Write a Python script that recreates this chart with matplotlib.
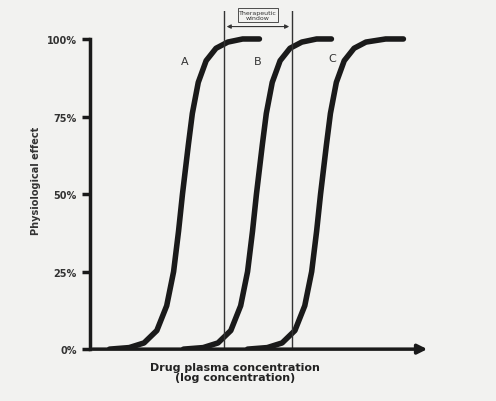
import matplotlib
matplotlib.use("Agg")
import matplotlib.pyplot as plt
import numpy as np

# x in axis units (0..345), y in percent
xa = [20, 40, 55, 68, 78, 85, 90, 94, 97, 100, 104, 110, 118, 128, 140, 155, 172]
ya = [0, 0.5, 2, 6, 14, 25, 38, 50, 58, 66, 76, 86, 93, 97, 99, 100, 100]
xb = [95, 115, 130, 143, 153, 160, 165, 169, 172, 175, 179, 185, 193, 203, 215, 230, 245]
yb = ya
xc = [160, 180, 195, 208, 218, 225, 230, 234, 237, 240, 244, 250, 258, 268, 280, 300, 318]
yc = ya
window = [136, 205]
yticks = [0, 25, 50, 75, 100]
ylabels = ["0%", "25%", "50%", "75%", "100%"]

fig = plt.figure(figsize=(4.96, 4.02), dpi=100)
fig.patch.set_facecolor("#f2f2f0")
ax = fig.add_axes([0.181, 0.129, 0.686, 0.841])
ax.set_facecolor("#f2f2f0")
col = "#1a1a1a"
for x, y in [(xa, ya), (xb, yb), (xc, yc)]:
    ax.plot(x, y, color=col, lw=4, solid_capstyle="round")
for w in window:
    ax.axvline(w, color="#333333", lw=1)
ax.annotate("", xy=(window[0], 104), xytext=(window[1], 104),
            arrowprops=dict(arrowstyle="<|-|>", color="#333", lw=0.8, mutation_scale=6))
ax.text(sum(window)/2, 106, "Therapeutic\nwindow", ha="center", va="bottom", fontsize=4.5,
        color="#333", bbox=dict(fc="#f2f2f0", ec="#333", lw=0.6, pad=1))
for lab, x, y in [("A", 96, 93), ("B", 170, 93), ("C", 246, 94)]:
    ax.text(x, y, lab, fontsize=8, color="#333", ha="center", va="center")
ax.set_xlim(0, 345)
ax.set_ylim(0, 109)
ax.annotate("", xy=(345, 0), xytext=(0, 0), annotation_clip=False,
            arrowprops=dict(arrowstyle="-|>", color=col, lw=2.5, mutation_scale=14))
for s in ["top", "right", "bottom"]:
    ax.spines[s].set_visible(False)
ax.spines["left"].set_linewidth(2.5)
ax.spines["left"].set_color(col)
ax.spines["left"].set_bounds(0, 100)
ax.set_xticks([])
ax.set_yticks(yticks)
ax.set_yticklabels(ylabels, fontsize=7, fontweight="bold", color="#333")
ax.tick_params(axis="y", length=6, width=2.5, color=col)
ax.set_ylabel("Physiological effect", fontsize=7, fontweight="bold", color="#333", labelpad=4)
ax.text(147, -4, "Drug plasma concentration\n(log concentration)", ha="center", va="top",
        fontsize=8, fontweight="bold", color="#222", linespacing=1.0)
fig.savefig("out.png", dpi=100, facecolor=fig.get_facecolor())
